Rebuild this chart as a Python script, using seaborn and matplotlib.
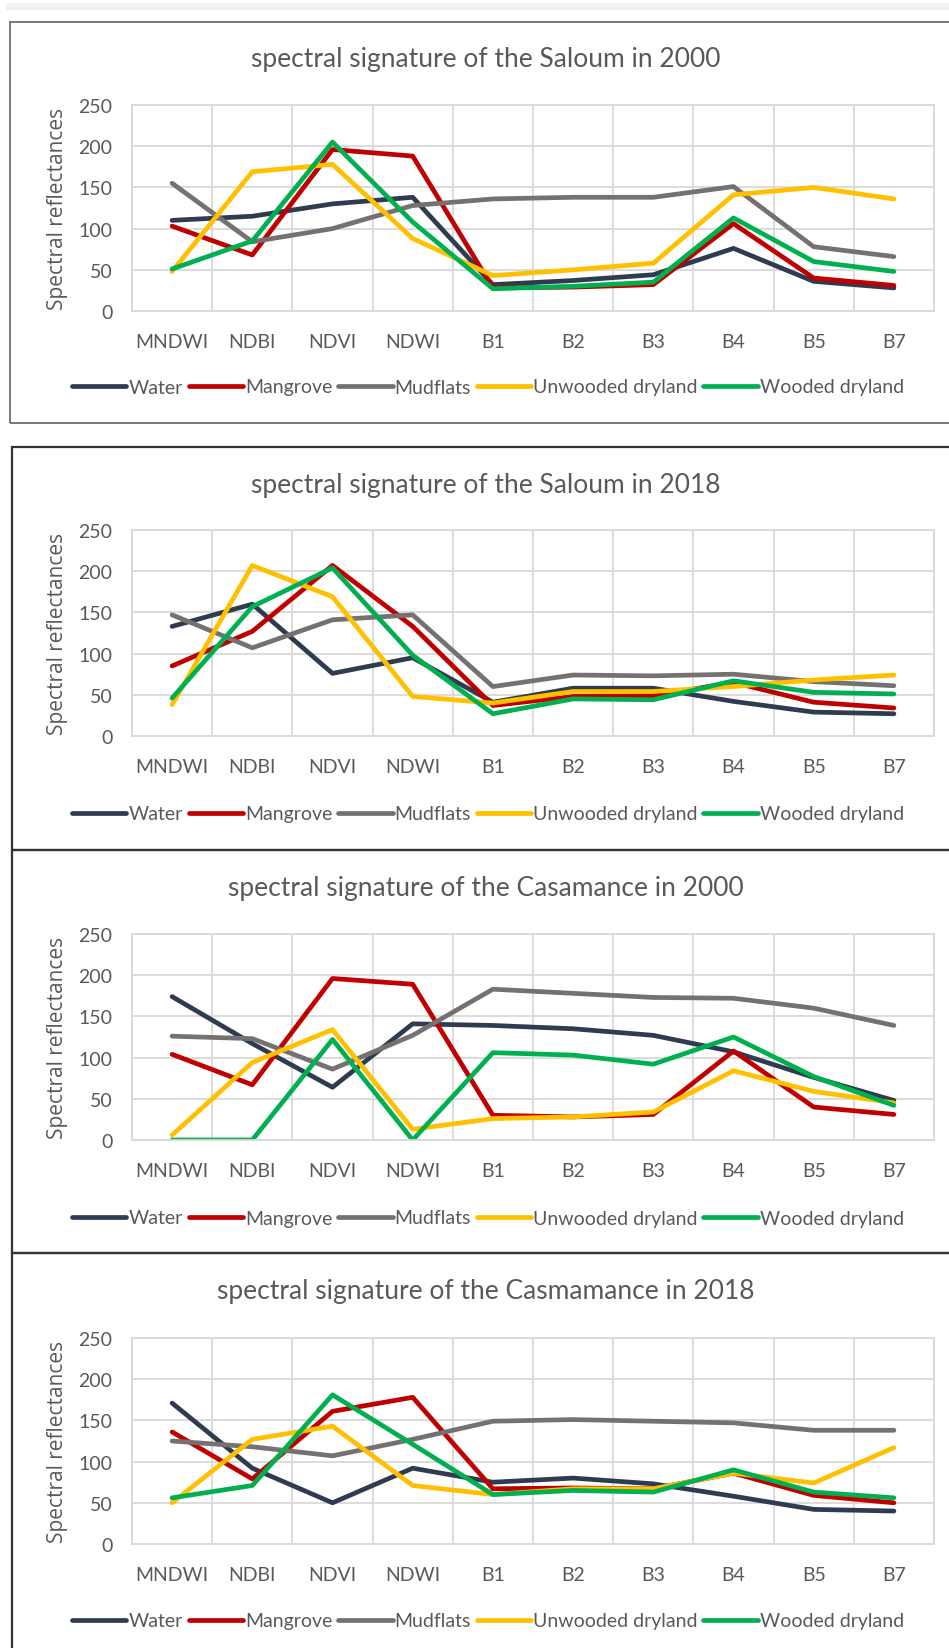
import numpy as np
import pandas as pd
import seaborn as sns
import matplotlib.pyplot as plt
import matplotlib.font_manager as fm
from matplotlib.patches import Rectangle

# 1. data (one row per land-cover class)
bands = ['MNDWI', 'NDBI', 'NDVI', 'NDWI', 'B1', 'B2', 'B3', 'B4', 'B5', 'B7']
classes = ['Water', 'Mangrove', 'Mudflats', 'Unwooded dryland', 'Wooded dryland']
colors = ['#2F3C50', '#C00000', '#767171', '#FFC000', '#00B050']

titles = ['spectral signature of the Saloum in 2000',
          'spectral signature of the Saloum in 2018',
          'spectral signature of the Casamance in 2000',
          'spectral signature of the Casmamance in 2018']

saloum_2000 = [
    [110, 115, 130, 138, 32, 37, 44, 76, 36, 28],
    [103, 68, 196, 188, 28, 29, 32, 106, 40, 31],
    [155, 84, 100, 128, 136, 138, 138, 151, 78, 66],
    [48, 169, 178, 88, 43, 50, 58, 141, 150, 136],
    [51, 85, 205, 108, 27, 30, 35, 113, 60, 48],
]
saloum_2018 = [
    [133, 160, 76, 95, 41, 58, 58, 42, 29, 27],
    [85, 127, 207, 133, 37, 48, 49, 65, 41, 34],
    [147, 107, 141, 147, 60, 74, 73, 75, 66, 61],
    [38, 207, 169, 48, 40, 54, 54, 60, 68, 74],
    [46, 157, 204, 98, 27, 45, 44, 67, 53, 51],
]
casamance_2000 = [
    [174, 117, 64, 141, 139, 135, 127, 107, 76, 48],
    [104, 67, 196, 189, 30, 28, 31, 108, 40, 31],
    [126, 123, 86, 127, 183, 178, 173, 172, 160, 139],
    [6, 94, 134, 13, 26, 28, 34, 84, 59, 45],
    [0, 0, 122, 0, 106, 103, 92, 125, 77, 42],
]
casamance_2018 = [
    [171, 92, 50, 92, 75, 80, 73, 58, 42, 40],
    [136, 79, 161, 178, 67, 68, 67, 86, 59, 50],
    [125, 118, 107, 127, 149, 151, 149, 147, 138, 138],
    [50, 127, 143, 71, 60, 67, 67, 86, 74, 117],
    [56, 71, 181, 121, 60, 65, 63, 90, 63, 56],
]
panels = [saloum_2000, saloum_2018, casamance_2000, casamance_2018]

# 2. layout (pixels)
W, H = 949, 1649
fx = lambda px: px / W
fy = lambda py: 1 - py / H
plot_left, plot_right = 132, 934
plot_bottoms = [312, 737, 1141, 1545]
plot_h = 206
title_y = [60, 486, 889, 1292]
legend_y = [388, 815, 1219, 1622]

sns.set_style('white')
names = {f.name for f in fm.fontManager.ttflist}
narrow = 'Liberation Sans Narrow' if 'Liberation Sans Narrow' in names else 'Lato'
plt.rcParams['font.family'] = [narrow, 'DejaVu Sans']
text_color = '#595959'
grid_color = '#D9D9D9'

fig = plt.figure(figsize=(W / 100, H / 100), dpi=100)
fig.patch.set_facecolor('white')

# frames around the charts
fig.add_artist(Rectangle((fx(6), fy(11)), (W - 6) / W, 7 / H, transform=fig.transFigure,
                         facecolor='#F2F2F2', edgecolor='none'))
fig.add_artist(Rectangle((fx(10), fy(424)), 990 / W, 401 / H, transform=fig.transFigure,
                         fill=False, edgecolor='#6E6E6E', linewidth=1.3))
for top, bottom in [(448, 851), (851, 1254), (1254, 1720)]:
    fig.add_artist(Rectangle((fx(12), fy(bottom)), 990 / W, (bottom - top) / H,
                             transform=fig.transFigure, fill=False,
                             edgecolor='#333333', linewidth=1.6))

for i, vals in enumerate(panels):
    df = pd.DataFrame({
        'band': bands * len(classes),
        'value': np.concatenate(vals),
        'cls': np.repeat(classes, len(bands)),
    })
    ax = fig.add_axes([fx(plot_left), fy(plot_bottoms[i]),
                       (plot_right - plot_left) / W, plot_h / H])
    sns.lineplot(data=df, x='band', y='value', hue='cls', hue_order=classes,
                 palette=colors, sort=False, errorbar=None, linewidth=3.4, ax=ax)

    ax.set_xlim(-0.5, len(bands) - 0.5)
    ax.set_ylim(0, 250)
    ax.set_yticks(range(0, 251, 50))
    ax.set_xticks(np.arange(-0.5, len(bands), 1), minor=True)
    ax.grid(True, which='minor', axis='x', color=grid_color, linewidth=1.3)
    ax.grid(True, which='major', axis='y', color=grid_color, linewidth=1.3)
    ax.set_axisbelow(True)
    for s in ax.spines.values():
        s.set_color(grid_color)
        s.set_linewidth(1.3)
    ax.tick_params(which='both', length=0)
    ax.tick_params(axis='x', pad=16, labelsize=14, labelcolor=text_color)
    ax.tick_params(axis='y', pad=14, labelsize=14, labelcolor=text_color)
    ax.set_xlabel('')
    ax.set_ylabel('Spectral reflectances', fontsize=15, color=text_color,
                  family=['Open Sans', 'DejaVu Sans'])
    ax.yaxis.set_label_coords((68 - plot_left) / (plot_right - plot_left), 0.5)

    fig.text(fx(486), fy(title_y[i]), titles[i], ha='center', va='center',
             fontsize=19, color=text_color)

    sns.move_legend(ax, 'center', bbox_to_anchor=(fx(488), fy(legend_y[i])),
                    bbox_transform=fig.transFigure, ncol=5, frameon=False,
                    title=None, fontsize=14, handlelength=2.8, handletextpad=0.1,
                    columnspacing=0.3, labelcolor=text_color)

fig.savefig('out.png', dpi=100)
